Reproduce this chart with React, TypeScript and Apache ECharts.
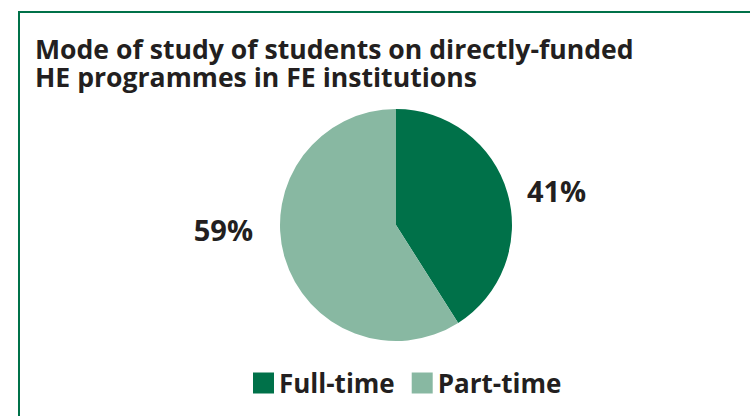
import React, { useEffect, useRef } from "react";
import * as echarts from "echarts";

const titleLines = ["Mode of study of students on directly-funded", "HE programmes in FE institutions"];
const categories = ["Full-time", "Part-time"];
const values = [41, 59];
const colors = ["#007149", "#88b8a2"];

export default function App() {
  const ref = useRef<HTMLDivElement>(null);
  useEffect(() => {
    const chart = echarts.init(ref.current!, null, { renderer: "svg" });
    const font = "'Open Sans', 'Noto Sans', sans-serif";
    chart.setOption({
      animation: false,
      backgroundColor: "#ffffff",
      textStyle: { fontFamily: font },
      graphic: [
        { type: "line", shape: { x1: 19, y1: 12, x2: 750, y2: 12 }, style: { stroke: "#007149", lineWidth: 2 } },
        { type: "line", shape: { x1: 19, y1: 11, x2: 19, y2: 416 }, style: { stroke: "#007149", lineWidth: 2 } },
        ...titleLines.map((t, i) => ({
          type: "text",
          x: 35,
          y: 35 + i * 28,
          style: {
            text: t,
            font: `bold 26.6px ${font}`,
            fill: "#231f20",
            verticalAlign: "top",
            lineHeight: 27,
          },
        })),
      ],
      legend: {
        data: categories,
        left: 248,
        top: 365,
        itemWidth: 21,
        itemHeight: 21,
        itemGap: 17,
        icon: "rect",
        textStyle: { fontSize: 26, fontWeight: "bold", color: "#231f20", fontFamily: font },
        selectedMode: false,
      },
      series: [
        {
          type: "pie",
          center: [396, 225],
          radius: [0, 116],
          startAngle: 90,
          clockwise: true,
          data: categories.map((c, i) => ({ name: c, value: values[i], itemStyle: { color: colors[i] } })),
          label: {
            show: true,
            position: "outside",
            formatter: "{c}%",
            fontSize: 29,
            fontWeight: "bold",
            color: "#231f20",
            fontFamily: font,
          },
          labelLine: { show: false, length: 12, length2: 8 },
          labelLayout: (p: any) => (p.dataIndex === 1 ? { dx: -7, dy: -31 } : { dx: -5, dy: 1 }),
          emphasis: { disabled: true },
        },
      ],
    });
    return () => chart.dispose();
  }, []);
  return <div ref={ref} style={{ position: "fixed", left: 0, top: 0, width: 750, height: 416 }} />;
}
